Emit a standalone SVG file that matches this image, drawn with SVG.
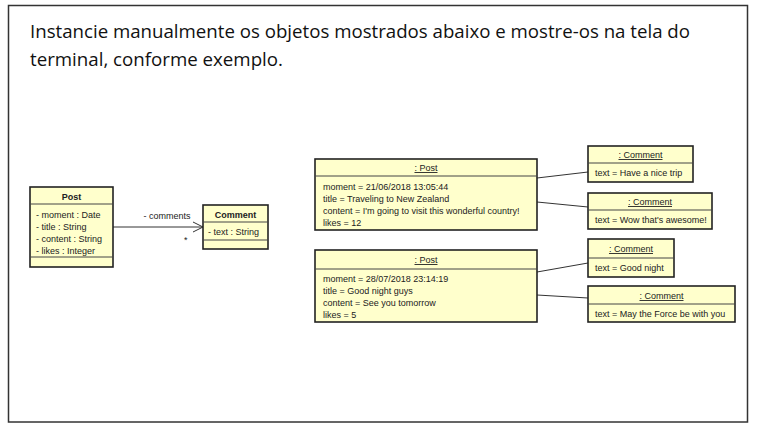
<svg xmlns="http://www.w3.org/2000/svg" width="759" height="432" viewBox="0 0 759 432">
<defs>
<style>
.box{fill:#FFFFCC;stroke:#222;stroke-width:1.6}
.div{stroke:#444;stroke-width:1}
.t{font-family:"Liberation Sans",Arial,sans-serif;font-size:9px;fill:#222}
.b{font-weight:bold;text-anchor:middle}
.c{text-anchor:middle}
.u{text-decoration:underline}
.ln{stroke:#333;stroke-width:1;fill:none}
.title{font-family:"Open Sans","Noto Sans",sans-serif;font-size:19px;fill:#111}
</style>
<marker id="open" markerWidth="12" markerHeight="12" refX="11" refY="6" orient="auto" markerUnits="userSpaceOnUse">
<path d="M1,1 L11,6 L1,11" fill="none" stroke="#333" stroke-width="1"/>
</marker>
</defs>
<rect x="0" y="0" width="759" height="432" fill="#fff"/>
<rect x="8.5" y="5.5" width="739" height="416.5" fill="none" stroke="#333" stroke-width="1.5"/>
<text class="title" x="30" y="38" textLength="660" lengthAdjust="spacingAndGlyphs">Instancie manualmente os objetos mostrados abaixo e mostre-os na tela do</text>
<text class="title" x="30" y="66" textLength="253" lengthAdjust="spacingAndGlyphs">terminal, conforme exemplo.</text>

<g id="connectors">
<line class="ln" x1="113" y1="227" x2="203" y2="227" marker-end="url(#open)"/>
<text class="t c" x="167" y="219">- comments</text>
<text class="t" x="184" y="243">*</text>
<line class="ln" x1="537" y1="178" x2="588" y2="172"/>
<line class="ln" x1="537" y1="202" x2="588" y2="207"/>
<line class="ln" x1="537" y1="272" x2="588" y2="263"/>
<line class="ln" x1="537" y1="295" x2="588" y2="298"/>
</g>

<g id="class-post">
<rect class="box" x="30" y="187" width="83" height="80"/>
<line class="div" x1="30" y1="204" x2="113" y2="204"/>
<line class="div" x1="30" y1="257" x2="113" y2="257"/>
<text class="t b" x="71.5" y="200">Post</text>
<text class="t" x="36" y="217.5">- moment : Date</text>
<text class="t" x="36" y="229.5">- title : String</text>
<text class="t" x="36" y="241.5">- content : String</text>
<text class="t" x="36" y="253.5">- likes : Integer</text>
</g>

<g id="class-comment">
<rect class="box" x="203" y="205" width="65" height="44"/>
<line class="div" x1="203" y1="222" x2="268" y2="222"/>
<line class="div" x1="203" y1="240" x2="268" y2="240"/>
<text class="t b" x="235.5" y="218">Comment</text>
<text class="t" x="208" y="235">- text : String</text>
</g>

<g id="post1">
<rect class="box" x="315" y="159" width="222" height="71"/>
<line class="div" x1="315" y1="176" x2="537" y2="176"/>
<text class="t c u" x="426" y="171">: Post</text>
<text class="t" x="323" y="190">moment = 21/06/2018 13:05:44</text>
<text class="t" x="323" y="202">title = Traveling to New Zealand</text>
<text class="t" x="323" y="214">content = I'm going to visit this wonderful country!</text>
<text class="t" x="323" y="226">likes = 12</text>
</g>

<g id="post2">
<rect class="box" x="315" y="250" width="222" height="72"/>
<line class="div" x1="315" y1="269" x2="537" y2="269"/>
<text class="t c u" x="426" y="263">: Post</text>
<text class="t" x="323" y="282">moment = 28/07/2018 23:14:19</text>
<text class="t" x="323" y="294">title = Good night guys</text>
<text class="t" x="323" y="306">content = See you tomorrow</text>
<text class="t" x="323" y="318">likes = 5</text>
</g>

<g id="comment1">
<rect class="box" x="588" y="146" width="105" height="36"/>
<line class="div" x1="588" y1="163" x2="693" y2="163"/>
<text class="t c u" x="640.5" y="158">: Comment</text>
<text class="t" x="595" y="176">text = Have a nice trip</text>
</g>

<g id="comment2">
<rect class="box" x="588" y="193" width="124" height="36"/>
<line class="div" x1="588" y1="210" x2="712" y2="210"/>
<text class="t c u" x="650" y="205">: Comment</text>
<text class="t" x="595" y="223">text = Wow that's awesome!</text>
</g>

<g id="comment3">
<rect class="box" x="588" y="239" width="86" height="38"/>
<line class="div" x1="588" y1="258" x2="674" y2="258"/>
<text class="t c u" x="631" y="252">: Comment</text>
<text class="t" x="595" y="271">text = Good night</text>
</g>

<g id="comment4">
<rect class="box" x="588" y="286" width="147" height="36"/>
<line class="div" x1="588" y1="304" x2="735" y2="304"/>
<text class="t c u" x="661.5" y="299">: Comment</text>
<text class="t" x="595" y="317">text = May the Force be with you</text>
</g>
</svg>
